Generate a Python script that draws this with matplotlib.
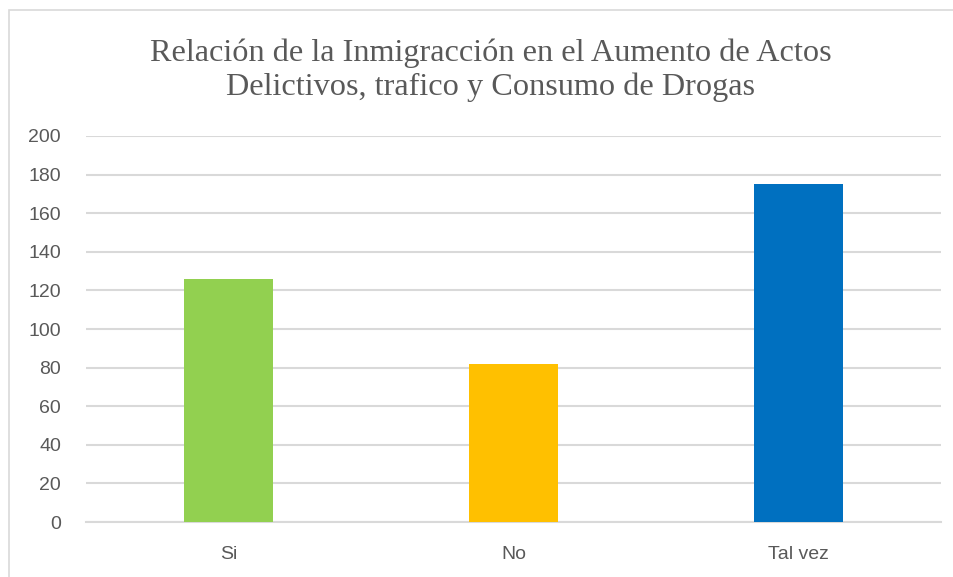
import matplotlib.pyplot as plt
from matplotlib.patches import Rectangle

# Data
categories = ['Si', 'No', 'Tal vez']
values = [126, 82, 175]
colors = ['#92d050', '#ffc000', '#0070c0']
yticks = [0, 20, 40, 60, 80, 100, 120, 140, 160, 180, 200]

title = 'Relación de la Inmigracción en el Aumento de Actos\nDelictivos, trafico y Consumo de Drogas'

fig = plt.figure(figsize=(9.54, 5.77), dpi=100)
ax = fig.add_axes([0.0901, 0.0953, 0.8963, 0.669])

x = range(len(categories))
ax.bar(x, values, width=0.31, color=colors, zorder=3)

ax.set_xlim(-0.5, 2.5)
ax.set_ylim(0, 200)
ax.set_yticks(yticks)
ax.set_xticks(list(x))
ax.set_xticklabels(categories)

tick_font = ['Liberation Sans Narrow', 'Liberation Sans', 'DejaVu Sans']
for lab in ax.get_yticklabels() + ax.get_xticklabels():
    lab.set_family(tick_font)
    lab.set_fontsize(14)
    lab.set_color('#595959')

ax.tick_params(axis='both', length=0)
ax.tick_params(axis='y', pad=18)
ax.tick_params(axis='x', pad=17)
ax.grid(axis='y', color='#d9d9d9', linewidth=1.5, zorder=0)
for side in ['top', 'right', 'left']:
    ax.spines[side].set_visible(False)
ax.spines['bottom'].set_color('#d9d9d9')
ax.spines['bottom'].set_linewidth(1.5)

fig.text(0.514, 0.878, title, ha='center', va='center', fontsize=23.2,
         family=['Liberation Serif', 'DejaVu Serif'], color='#595959',
         linespacing=1.22)

# light frame around the chart area
fig.patches.append(Rectangle((0.0095, -0.01), 0.99, 0.993, transform=fig.transFigure,
                             fill=False, edgecolor='#d9d9d9', linewidth=1.2))

fig.savefig('out.png', dpi=100)
